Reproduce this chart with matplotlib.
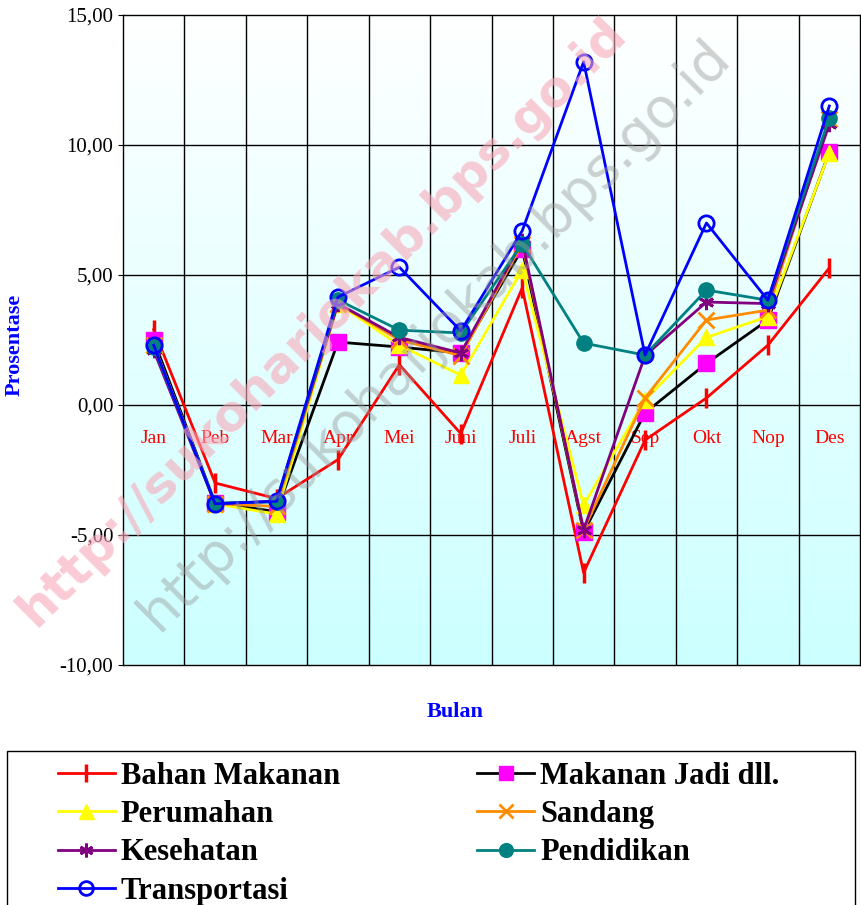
import matplotlib
matplotlib.use('Agg')
import matplotlib.pyplot as plt
import numpy as np
from matplotlib.colors import LinearSegmentedColormap
from matplotlib.patches import Rectangle

# Data
bulan = ['Jan', 'Peb', 'Mar', 'Apr', 'Mei', 'Juni', 'Juli', 'Agst', 'Sep', 'Okt', 'Nop', 'Des']
bahan_makanan = [2.9, -3.0, -3.6, -2.1, 1.55, -1.1, 4.5, -6.45, -1.35, 0.27, 2.3, 5.27]
makanan_jadi = [2.5, -3.77, -4.1, 2.42, 2.23, 2.0, 6.0, -4.9, -0.3, 1.6, 3.27, 9.73]
perumahan = [2.3, -3.8, -4.2, 3.9, 2.3, 1.15, 5.2, -3.85, 0.2, 2.6, 3.4, 9.7]
sandang = [2.3, -3.8, -3.9, 3.9, 2.5, 1.9, 6.2, -4.8, 0.27, 3.27, 3.65, 11.0]
kesehatan = [2.1, -3.8, -3.7, 3.9, 2.6, 2.0, 6.3, -4.8, 1.9, 3.96, 3.9, 10.8]
pendidikan = [2.23, -3.77, -3.73, 4.04, 2.88, 2.77, 6.2, 2.38, 1.92, 4.42, 4.03, 11.04]
transportasi = [2.3, -3.8, -3.7, 4.15, 5.3, 2.85, 6.7, 13.2, 1.92, 7.0, 4.03, 11.5]

plt.rcParams['font.family'] = 'Liberation Serif'

fig = plt.figure(figsize=(8.61, 9.05), dpi=100)
ax = fig.add_axes([123 / 861, 1 - 665 / 905, 737 / 861, 650 / 905])

x = np.arange(len(bulan))

# latar gradasi
cmap = LinearSegmentedColormap.from_list('bg', ['#ccffff', '#ffffff'])
grad = np.linspace(0, 1, 256).reshape(-1, 1)
ax.imshow(grad, extent=[-0.5, 11.5, -10, 15], aspect='auto', cmap=cmap,
          origin='lower', zorder=0)

lw = 2.0
ms = 11
ax.plot(x, bahan_makanan, color='red', lw=lw, marker='|', ms=15, mew=2.5,
        label='Bahan Makanan', zorder=3)
ax.plot(x, makanan_jadi, color='black', lw=lw, marker='s', ms=ms,
        mfc='magenta', mec='magenta', label='Makanan Jadi dll.', zorder=3)
ax.plot(x, perumahan, color='yellow', lw=lw, marker='^', ms=ms + 1,
        mfc='yellow', mec='yellow', label='Perumahan', zorder=3)
ax.plot(x, sandang, color='darkorange', lw=lw, marker='x', ms=ms, mew=2,
        label='Sandang', zorder=3)
ax.plot(x, kesehatan, color='purple', lw=lw, marker=(6, 2, 0), ms=ms, mew=2,
        label='Kesehatan', zorder=3)
ax.plot(x, pendidikan, color='teal', lw=lw, marker='o', ms=ms,
        mfc='teal', mec='teal', label='Pendidikan', zorder=3)
ax.plot(x, transportasi, color='blue', lw=lw, marker='o', ms=ms, mew=2,
        mfc='none', mec='blue', label='Transportasi', zorder=4)

ax.set_xlim(-0.5, 11.5)
ax.set_ylim(-10, 15)
ax.set_yticks([-10, -5, 0, 5, 10, 15])
ax.set_yticklabels(['-10,00', '-5,00', '0,00', '5,00', '10,00', '15,00'], fontsize=15)
ax.set_xticks([])
for b in np.arange(0.5, 11.5, 1):
    ax.axvline(b, color='black', lw=1, zorder=1)
for t in [-5, 0, 5, 10]:
    ax.axhline(t, color='black', lw=1, zorder=1)
for s in ax.spines.values():
    s.set_linewidth(1)

for i, m in enumerate(bulan):
    ax.text(i, -1.28, m, color='red', fontsize=14, ha='center', va='center', zorder=2)

fig.text(15 / 861, 1 - 345 / 905, 'Prosentase', rotation=90, color='blue',
         fontsize=16, fontweight='bold', ha='center', va='center')
fig.text(455 / 861, 1 - 712 / 905, 'Bulan', color='blue', fontsize=16,
         fontweight='bold', ha='center', va='center')

# watermark
fig.text(322 / 861, 1 - 322 / 905, 'http://sukoharjokab.bps.go.id', rotation=45,
         color='#f7a8b8', alpha=0.6, fontsize=36, fontweight='bold',
         family='DejaVu Sans', ha='center', va='center', zorder=10)
fig.text(435 / 861, 1 - 335 / 905, 'http://sukoharjokab.bps.go.id', rotation=45,
         color='#999999', alpha=0.45, fontsize=40,
         family='DejaVu Sans', ha='center', va='center', zorder=10)

# legenda
h, l = ax.get_legend_handles_labels()
order = [0, 2, 4, 6, 1, 3, 5]
leg = fig.legend([h[i] for i in order], [l[i] for i in order], ncol=2,
                 loc='upper left', bbox_to_anchor=(58 / 861, 1 - 762 / 905),
                 frameon=False, prop={'family': 'Liberation Serif', 'weight': 'bold', 'size': 22},
                 handlelength=1.85, handletextpad=0.2, columnspacing=4.5,
                 labelspacing=0.3, borderpad=0, borderaxespad=0, markerscale=0.9)
fig.patches.append(Rectangle((7 / 861, -0.01), 848 / 861, 0.01 + 1 - 751 / 905,
                             transform=fig.transFigure, fill=False,
                             edgecolor='black', lw=1))

fig.savefig('out.png', dpi=100)
